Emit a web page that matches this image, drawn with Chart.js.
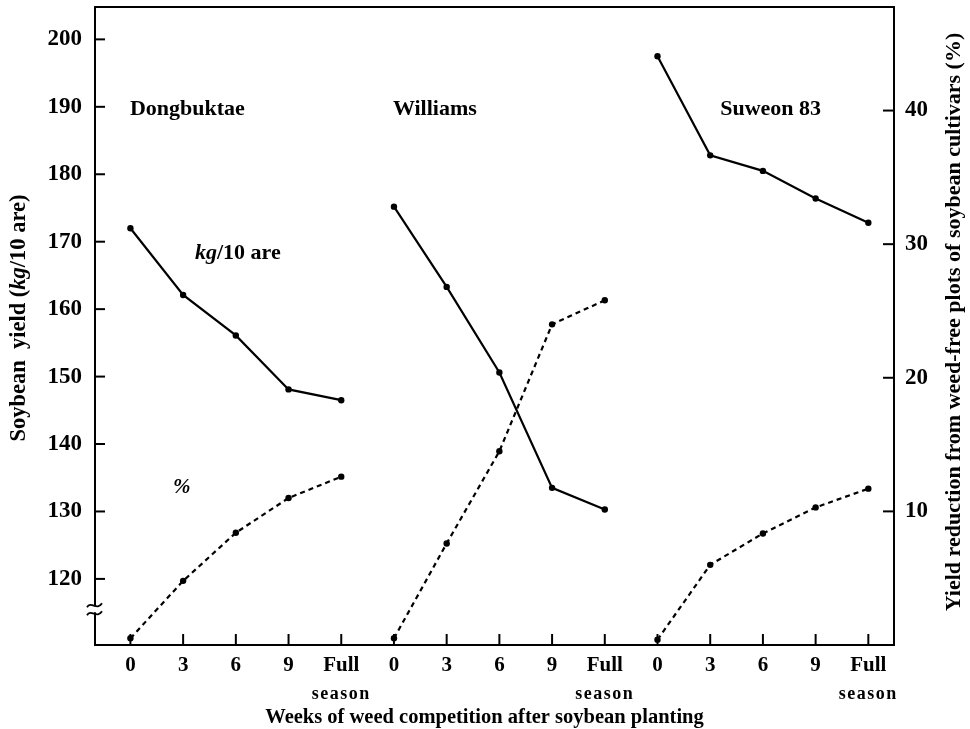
<!DOCTYPE html>
<html>
<head>
<meta charset="utf-8">
<script src="https://cdn.jsdelivr.net/npm/chart.js@4.4.1/dist/chart.umd.min.js"></script>
<style>
  html, body { margin: 0; padding: 0; background: #fff; }
  #wrap { width: 970px; height: 729px; }
</style>
</head>
<body>
<div id="wrap"><canvas id="c" width="970" height="729"></canvas></div>
<script>
// ---- data ----
const cultivars = ['Dongbuktae', 'Williams', 'Suweon 83'];
const weekLabels = ['0', '3', '6', '9', 'Full season'];
const yieldDongbuktae = [172.0, 162.1, 156.1, 148.1, 146.5];
const yieldWilliams   = [175.2, 163.3, 150.6, 133.5, 130.3];
const yieldSuweon     = [197.5, 182.8, 180.5, 176.4, 172.8];
const reductionDongbuktae = [0.5, 4.8, 8.4, 11.0, 12.6];
const reductionWilliams   = [0.5, 7.6, 14.5, 24.0, 25.8];
const reductionSuweon     = [0.4, 6.0, 8.35, 10.3, 11.7];
const leftTicks = [120, 130, 140, 150, 160, 170, 180, 190, 200];
const rightTicks = [10, 20, 30, 40];
const leftTitle = ['Soybean  yield (', 'kg', '/10 are)'];
const rightTitle = 'Yield reduction from weed-free plots of soybean cultivars (%)';
const xTitle = 'Weeks of weed competition after soybean planting';

const SERIF = '"Liberation Serif", "DejaVu Serif", serif';
const nWeeks = weekLabels.length;

function pts(arr, g) { return arr.map((v, i) => ({ x: g * nWeeks + i, y: v })); }

const yieldSeries = [yieldDongbuktae, yieldWilliams, yieldSuweon];
const redSeries = [reductionDongbuktae, reductionWilliams, reductionSuweon];

const datasets = [];
yieldSeries.forEach((s, g) => datasets.push({
  label: cultivars[g] + ' kg/10 are', data: pts(s, g), yAxisID: 'y',
  borderColor: '#000', backgroundColor: '#000', borderWidth: 2.2,
  pointRadius: 3.2, pointBackgroundColor: '#000', pointBorderWidth: 0, tension: 0
}));
redSeries.forEach((s, g) => datasets.push({
  label: cultivars[g] + ' %', data: pts(s, g), yAxisID: 'y2',
  borderColor: '#000', backgroundColor: '#000', borderWidth: 2.2, borderDash: [5, 4],
  pointRadius: 3.2, pointBackgroundColor: '#000', pointBorderWidth: 0, tension: 0
}));

// annotations in data units (x index, left-axis value)
const notes = [
  { text: 'Dongbuktae', x: -0.01, y: 188.8 },
  { text: 'Williams', x: 4.98, y: 188.8 },
  { text: 'Suweon 83', x: 11.19, y: 188.8 }
];

const drawPlugin = {
  id: 'drawExtras',
  afterDraw(chart) {
    const ctx = chart.ctx;
    const a = chart.chartArea;
    const xs = chart.scales.x, ys = chart.scales.y, y2 = chart.scales.y2;
    ctx.save();
    ctx.strokeStyle = '#000';
    ctx.fillStyle = '#000';
    ctx.lineWidth = 2;
    // top border
    ctx.beginPath(); ctx.moveTo(a.left - 1, a.top); ctx.lineTo(a.right + 1, a.top); ctx.stroke();
    // inward ticks
    leftTicks.forEach(v => { const p = ys.getPixelForValue(v); ctx.beginPath(); ctx.moveTo(a.left, p); ctx.lineTo(a.left + 10, p); ctx.stroke(); });
    rightTicks.forEach(v => { const p = y2.getPixelForValue(v); ctx.beginPath(); ctx.moveTo(a.right, p); ctx.lineTo(a.right - 11, p); ctx.stroke(); });
    const total = cultivars.length * nWeeks;
    for (let i = 0; i < total; i++) {
      const p = xs.getPixelForValue(i);
      ctx.beginPath(); ctx.moveTo(p, a.bottom); ctx.lineTo(p, a.bottom - 11); ctx.stroke();
    }
    // x labels
    ctx.textAlign = 'center';
    ctx.textBaseline = 'alphabetic';
    for (let i = 0; i < total; i++) {
      const p = xs.getPixelForValue(i);
      const lab = weekLabels[i % nWeeks].split(' ');
      ctx.font = 'bold 21px ' + SERIF;
      ctx.letterSpacing = '0px';
      ctx.fillText(lab[0], p, a.bottom + 26);
      if (lab[1]) {
        ctx.font = 'bold 18px ' + SERIF;
        ctx.letterSpacing = '1.5px';
        ctx.fillText(lab[1], p, a.bottom + 54);
        ctx.letterSpacing = '0px';
      }
    }
    // x title
    ctx.font = 'bold 20.5px ' + SERIF;
    ctx.fillText(xTitle, (a.left + a.right) / 2 - 10, a.bottom + 78);
    // left title (rotated, mixed italic)
    ctx.save();
    ctx.translate(19, (a.top + a.bottom) / 2 - 8);
    ctx.rotate(-Math.PI / 2);
    ctx.textBaseline = 'middle';
    ctx.textAlign = 'left';
    const fonts = ['bold 22.5px ' + SERIF, 'italic bold 22.5px ' + SERIF, 'bold 22.5px ' + SERIF];
    let w = 0;
    leftTitle.forEach((t, k) => { ctx.font = fonts[k]; w += ctx.measureText(t).width; });
    let cx = -w / 2;
    leftTitle.forEach((t, k) => { ctx.font = fonts[k]; ctx.fillText(t, cx, 0); cx += ctx.measureText(t).width; });
    ctx.restore();
    // right title
    ctx.save();
    ctx.translate(954, (a.top + a.bottom) / 2 - 4);
    ctx.rotate(-Math.PI / 2);
    ctx.textBaseline = 'middle';
    ctx.textAlign = 'center';
    ctx.font = 'bold 22px ' + SERIF;
    ctx.fillText(rightTitle, 0, 0);
    ctx.restore();
    // cultivar names
    ctx.textAlign = 'left';
    ctx.textBaseline = 'alphabetic';
    ctx.font = 'bold 22px ' + SERIF;
    notes.forEach(n => ctx.fillText(n.text, xs.getPixelForValue(n.x), ys.getPixelForValue(n.y)));
    // series labels
    let lx = xs.getPixelForValue(1.225), ly = ys.getPixelForValue(167.5);
    ctx.font = 'italic bold 22px ' + SERIF; ctx.fillText('kg', lx, ly);
    lx += ctx.measureText('kg').width;
    ctx.font = 'bold 22px ' + SERIF; ctx.fillText('/10 are', lx, ly);
    ctx.font = 'italic bold 21px ' + SERIF;
    ctx.fillText('%', xs.getPixelForValue(0.81), ys.getPixelForValue(132.7));
    // axis break mark on left axis
    const by = ys.getPixelForValue(115.5);
    ctx.fillStyle = '#fff';
    ctx.fillRect(a.left - 2, by - 3, 4, 6);
    ctx.lineWidth = 1.8;
    [by - 4, by + 4].forEach(yy => {
      ctx.beginPath();
      ctx.moveTo(a.left - 8, yy + 2);
      ctx.bezierCurveTo(a.left - 4, yy - 5, a.left + 2, yy + 6, a.left + 7, yy - 2);
      ctx.stroke();
    });
    ctx.restore();
  }
};

function fixPad(scale) { scale.paddingTop = 0; scale.paddingBottom = 0; scale.paddingLeft = 0; scale.paddingRight = 0; }

new Chart(document.getElementById('c'), {
  type: 'line',
  data: { datasets },
  options: {
    responsive: false,
    animation: false,
    layout: { padding: { top: 7, left: 0, right: 0, bottom: 0 } },
    plugins: { legend: { display: false }, tooltip: { enabled: false } },
    scales: {
      x: {
        type: 'linear', min: -0.672, max: 14.487,
        grid: { display: false, drawTicks: false },
        border: { display: true, color: '#000', width: 2 },
        ticks: { display: false },
        afterFit: s => { s.height = 84; fixPad(s); }
      },
      y: {
        position: 'left', min: 110.2, max: 204.8,
        grid: { display: false, drawTicks: false },
        border: { display: true, color: '#000', width: 2 },
        afterBuildTicks: s => { s.ticks = leftTicks.map(v => ({ value: v })); },
        ticks: { color: '#000', padding: 13, font: { family: SERIF, size: 23, weight: 'bold' } },
        afterFit: s => { s.width = 95; fixPad(s); }
      },
      y2: {
        position: 'right', min: 0, max: 47.75,
        grid: { display: false, drawTicks: false },
        border: { display: true, color: '#000', width: 2 },
        afterBuildTicks: s => { s.ticks = rightTicks.map(v => ({ value: v })); },
        ticks: { color: '#000', padding: 11, font: { family: SERIF, size: 23, weight: 'bold' } },
        afterFit: s => { s.width = 76; fixPad(s); }
      }
    }
  },
  plugins: [drawPlugin]
});
</script>
</body>
</html>
